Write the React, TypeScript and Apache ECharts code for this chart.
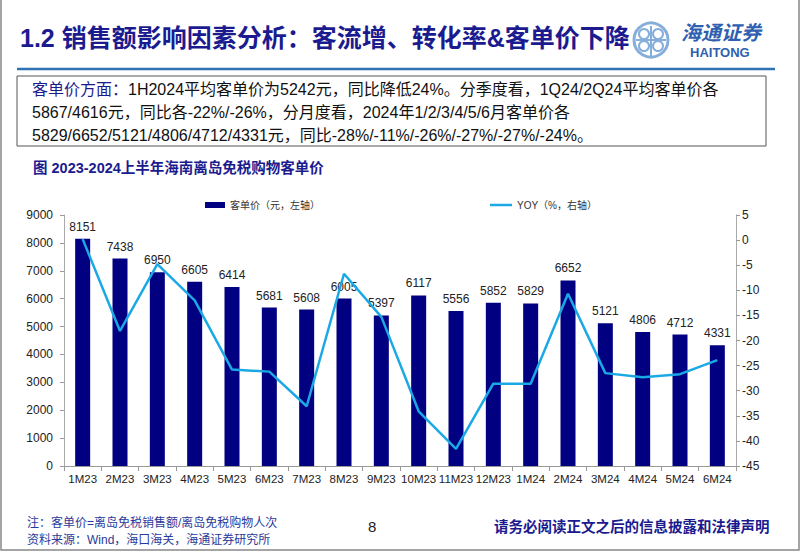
import React, { useEffect, useRef } from "react";
import * as echarts from "echarts";

const categories = ["1M23","2M23","3M23","4M23","5M23","6M23","7M23","8M23","9M23","10M23","11M23","12M23","1M24","2M24","3M24","4M24","5M24","6M24"];
const pricePerCustomer = [8151,7438,6950,6605,6414,5681,5608,6005,5397,6117,5556,5852,5829,6652,5121,4806,4712,4331];
const yoy = [0.2,-18.1,-4.8,-12,-25.8,-26.2,-33.1,-6.7,-15.3,-34.1,-41.6,-28.6,-28.6,-10.7,-26.5,-27.3,-26.7,-23.9];
const barName = "客单价（元，左轴）";
const lineName = "YOY（%，右轴）";

const TITLE = "1.2 销售额影响因素分析：客流增、转化率&客单价下降";
const CHART_TITLE = "图 2023-2024上半年海南离岛免税购物客单价";
const NOTE1 = "注：客单价=离岛免税销售额/离岛免税购物人次";
const NOTE2 = "资料来源：Wind，海口海关，海通证券研究所";
const DISCLAIMER = "请务必阅读正文之后的信息披露和法律声明";
const BOX_HEAD = "客单价方面：";
const BOX_LINE1 = "1H2024平均客单价为5242元，同比降低24%。分季度看，1Q24/2Q24平均客单价各";
const BOX_LINE2 = "5867/4616元，同比各-22%/-26%，分月度看，2024年1/2/3/4/5/6月客单价各";
const BOX_LINE3 = "5829/6652/5121/4806/4712/4331元，同比-28%/-11%/-26%/-27%/-27%/-24%。";

const CJK = "'Liberation Sans', 'Noto Sans CJK SC', sans-serif";
const ARIAL = "'Liberation Sans', Arial, sans-serif";
const BLUE = "#1b1b8f";

export default function App() {
  const ref = useRef<HTMLDivElement>(null);
  useEffect(() => {
    document.body.style.margin = "0";
    const chart = echarts.init(ref.current!, null, { renderer: "svg" });
    chart.setOption({
      animation: false,
      backgroundColor: "#fff",
      textStyle: { fontFamily: CJK },
      grid: { left: 64, right: 66, top: 215, bottom: 88, containLabel: false },
      legend: [
        {
          data: [barName], left: 200, top: 195, itemWidth: 20, itemHeight: 6,
          icon: "rect",
          textStyle: { fontSize: 10, color: "#333", fontFamily: CJK },
        },
        {
          data: [lineName], left: 485, top: 195, itemWidth: 22, itemHeight: 2.5,
          icon: "rect",
          textStyle: { fontSize: 10, color: "#333", fontFamily: CJK },
        },
      ],
      xAxis: {
        type: "category", data: categories,
        axisLine: { lineStyle: { color: "#999" } },
        axisTick: { show: true, lineStyle: { color: "#999" } },
        axisLabel: { color: "#222", fontSize: 11.5, margin: 7, interval: 0, fontFamily: ARIAL },
      },
      yAxis: [
        {
          type: "value", min: 0, max: 9000, interval: 1000,
          splitLine: { show: false },
          axisLine: { show: true, lineStyle: { color: "#aaa" } },
          axisTick: { show: true, length: 4, lineStyle: { color: "#999" } },
          axisLabel: { color: "#222", fontSize: 12, margin: 11, fontFamily: ARIAL, formatter: (v: number) => String(v) },
        },
        {
          type: "value", min: -45, max: 5, interval: 5, position: "right",
          splitLine: { show: false },
          axisLine: { show: true, lineStyle: { color: "#aaa" } },
          axisTick: { show: true, length: 4, lineStyle: { color: "#999" } },
          axisLabel: { color: "#222", fontSize: 12, margin: 6, fontFamily: ARIAL },
        },
      ],
      series: [
        {
          name: barName, type: "bar", data: pricePerCustomer, yAxisIndex: 0,
          barWidth: 15,
          itemStyle: { color: "#000080" },
          label: { show: true, position: "top", color: "#222", fontSize: 12, distance: 6, fontFamily: ARIAL },
        },
        {
          name: lineName, type: "line", data: yoy, yAxisIndex: 1,
          showSymbol: false, symbol: "none",
          lineStyle: { color: "#1ba9e6", width: 2.5 },
          itemStyle: { color: "#1ba9e6" },
          z: 5,
        },
      ],
      graphic: [
        { type: "rect", shape: { x: 1, y: -2, width: 798, height: 552 }, style: { fill: "none", stroke: "#888", lineWidth: 1.5 }, silent: true },
        { type: "text", left: 20, top: 25, style: { text: TITLE, font: `bold 25px ${CJK}`, fill: BLUE } },
        { type: "line", shape: { x1: 17, y1: 69, x2: 775, y2: 69 }, style: { stroke: "#2e74b5", lineWidth: 2.5 } },
        // logo
        { type: "circle", shape: { cx: 651, cy: 40, r: 17 }, style: { fill: "none", stroke: "#86aedb", lineWidth: 3 } },
        { type: "circle", shape: { cx: 644, cy: 34, r: 5 }, style: { fill: "none", stroke: "#86aedb", lineWidth: 2 } },
        { type: "circle", shape: { cx: 658, cy: 34, r: 5 }, style: { fill: "none", stroke: "#86aedb", lineWidth: 2 } },
        { type: "circle", shape: { cx: 644, cy: 46, r: 5 }, style: { fill: "none", stroke: "#86aedb", lineWidth: 2 } },
        { type: "circle", shape: { cx: 658, cy: 46, r: 5 }, style: { fill: "none", stroke: "#86aedb", lineWidth: 2 } },
        { type: "line", shape: { x1: 651, y1: 26, x2: 651, y2: 57 }, style: { stroke: "#86aedb", lineWidth: 2 } },
        { type: "line", shape: { x1: 636, y1: 40, x2: 666, y2: 40 }, style: { stroke: "#86aedb", lineWidth: 2 } },
        { type: "text", left: 681, top: 21, style: { text: "海通证券", font: `italic bold 20px 'Noto Sans CJK SC', sans-serif`, fill: "#2f5fb0" } },
        { type: "text", left: 690, top: 46, style: { text: "HAITONG", font: `bold 13px ${ARIAL}`, fill: "#2f5fb0" } },
        // text box
        { type: "rect", shape: { x: 17, y: 76, width: 749, height: 70 }, style: { fill: "none", stroke: "#555", lineWidth: 1 } },
        { type: "text", left: 32, top: 81, style: { text: BOX_HEAD, font: `16px ${CJK}`, fill: BLUE } },
        { type: "text", left: 128, top: 81, style: { text: BOX_LINE1, font: `16px ${CJK}`, fill: "#111" } },
        { type: "text", left: 32, top: 104, style: { text: BOX_LINE2, font: `16px ${CJK}`, fill: "#111" } },
        { type: "text", left: 32, top: 127, style: { text: BOX_LINE3, font: `16px ${CJK}`, fill: "#111" } },
        { type: "text", left: 33, top: 161, style: { text: CHART_TITLE, font: `bold 14.5px ${CJK}`, fill: BLUE } },
        // footer
        { type: "text", left: 27, top: 517, style: { text: NOTE1, font: `12px ${CJK}`, fill: "#2a3a9a" } },
        { type: "text", left: 27, top: 534, style: { text: NOTE2, font: `12px ${CJK}`, fill: "#2a3a9a" } },
        { type: "text", left: 368, top: 519, style: { text: "8", font: `15px ${ARIAL}`, fill: "#222" } },
        { type: "text", left: 494, top: 520, style: { text: DISCLAIMER, font: `bold 14.5px ${CJK}`, fill: BLUE } },
      ],
    });
    return () => chart.dispose();
  }, []);
  return <div ref={ref} style={{ position: "fixed", left: 0, top: 0, width: 802, height: 554 }} />;
}
